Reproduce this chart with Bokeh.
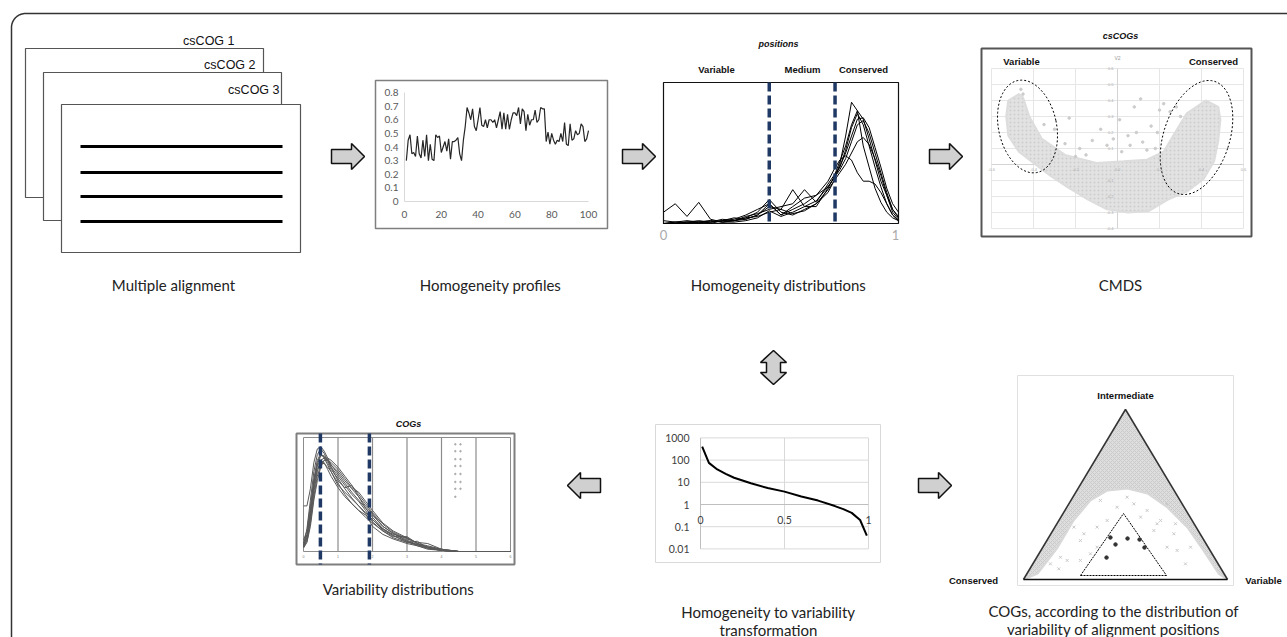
import numpy as np
from bokeh.plotting import figure
from bokeh.models import Range1d
from bokeh.core.properties import value
from bokeh.embed import file_html
from bokeh.resources import INLINE

# ---------------- data ----------------
sheet_labels = ["csCOG 1", "csCOG 2", "csCOG 3"]
captions_top = ["Multiple alignment", "Homogeneity profiles", "Homogeneity distributions", "CMDS"]

# homogeneity profile (position 1..100)
prof_pos = list(range(1, 101))
prof_val = [0.30,0.45,0.49,0.35,0.36,0.33,0.48,0.35,0.32,0.45,
            0.33,0.49,0.30,0.42,0.31,0.30,0.49,0.47,0.48,0.36,
            0.40,0.44,0.37,0.46,0.31,0.44,0.44,0.45,0.47,0.35,
            0.30,0.45,0.55,0.69,0.65,0.60,0.68,0.55,0.52,0.60,
            0.69,0.56,0.55,0.60,0.54,0.60,0.60,0.58,0.60,0.54,
            0.60,0.66,0.53,0.65,0.53,0.64,0.53,0.60,0.65,0.65,
            0.63,0.69,0.57,0.68,0.66,0.52,0.64,0.56,0.60,0.60,
            0.67,0.58,0.60,0.69,0.68,0.68,0.44,0.51,0.42,0.50,
            0.45,0.42,0.45,0.44,0.50,0.44,0.58,0.42,0.41,0.57,
            0.45,0.46,0.52,0.49,0.50,0.57,0.55,0.44,0.46,0.52]
prof_yticks = [0, 0.1, 0.2, 0.3, 0.4, 0.5, 0.6, 0.7, 0.8]
prof_xticks = [0, 20, 40, 60, 80, 100]

# homogeneity distributions (density, relative to panel height)
hd_h = [0.0,0.05,0.1,0.15,0.2,0.25,0.3,0.35,0.4,0.45,0.5,0.55,0.6,0.65,0.7,
        0.725,0.75,0.775,0.8,0.825,0.85,0.875,0.9,0.925,0.95,0.975,1.0]
hd_curves = [
    [0.0,0.0,0.01,0.01,0.01,0.02,0.02,0.04,0.08,0.17,0.08,0.06,0.10,0.14,0.22,0.30,0.42,0.62,0.86,0.80,0.55,0.40,0.25,0.15,0.08,0.04,0.02],
    [0.0,0.01,0.0,0.01,0.02,0.01,0.02,0.03,0.06,0.12,0.10,0.24,0.12,0.12,0.25,0.33,0.44,0.55,0.70,0.80,0.74,0.60,0.45,0.30,0.20,0.10,0.05],
    [0.0,0.0,0.01,0.02,0.01,0.03,0.02,0.05,0.07,0.10,0.12,0.14,0.24,0.15,0.28,0.34,0.40,0.50,0.62,0.74,0.75,0.68,0.54,0.40,0.25,0.14,0.08],
    [0.02,0.01,0.02,0.01,0.0,0.02,0.04,0.03,0.06,0.14,0.06,0.10,0.14,0.20,0.26,0.32,0.38,0.46,0.58,0.70,0.73,0.64,0.50,0.36,0.22,0.10,0.04],
    [0.0,0.0,0.0,0.01,0.02,0.01,0.02,0.04,0.05,0.08,0.10,0.07,0.09,0.14,0.24,0.30,0.36,0.42,0.50,0.58,0.61,0.56,0.46,0.34,0.20,0.08,0.03],
    [0.0,0.01,0.01,0.0,0.01,0.02,0.03,0.06,0.10,0.14,0.06,0.12,0.18,0.20,0.30,0.38,0.45,0.48,0.45,0.36,0.30,0.30,0.28,0.22,0.14,0.06,0.02],
    [0.08,0.14,0.05,0.15,0.03,0.01,0.01,0.02,0.04,0.09,0.05,0.08,0.12,0.16,0.26,0.32,0.40,0.52,0.68,0.78,0.70,0.55,0.40,0.26,0.14,0.06,0.02],
]
hd_thresholds = [0.45, 0.73]
hd_classes = ["Variable", "Medium", "Conserved"]

# CMDS
cm_xgrid = [-0.6, -0.4, -0.2, 0.0, 0.2, 0.4, 0.6]
cm_ygrid = [-0.4, -0.3, -0.2, -0.1, 0.0, 0.1, 0.2, 0.3, 0.4, 0.5, 0.6]
cm_cloud_x = [-0.47,-0.52,-0.53,-0.52,-0.47,-0.40,-0.32,-0.24,-0.14,-0.05,0.05,0.15,0.24,0.33,0.41,0.46,0.48,0.49,0.48,
              0.42,0.33,0.27,0.22,0.14,0.03,-0.10,-0.25,-0.36,-0.42,-0.45]
cm_cloud_y = [0.44,0.40,0.30,0.18,0.08,0.01,-0.07,-0.14,-0.22,-0.28,-0.30,-0.29,-0.22,-0.17,-0.09,0.02,0.15,0.28,0.36,
              0.40,0.32,0.19,0.08,0.03,0.02,0.01,0.06,0.16,0.30,0.42]
cm_out_x = [-0.46,-0.45,-0.23,0.11,0.08,0.20,0.01,0.16,0.22,0.05,-0.05,-0.12,-0.18,-0.30,0.12,0.25,0.18,-0.08,0.02,0.09,
            -0.15,0.28,0.30,-0.35,-0.20,0.14,-0.02,0.06,0.19,-0.25]
cm_out_y = [0.47,0.44,0.29,0.41,0.36,0.34,0.28,0.24,0.38,0.18,0.12,0.15,0.10,0.22,0.14,0.33,0.10,0.22,0.08,0.20,
            0.06,0.36,0.30,0.25,0.05,0.09,0.16,0.12,0.20,0.13]

# homogeneity -> variability transformation
hv_h = [0.01,0.05,0.1,0.15,0.2,0.3,0.4,0.5,0.6,0.7,0.8,0.85,0.9,0.95,0.99]
hv_v = [400,75,38,24,16,9,5.5,3.8,2.3,1.5,0.85,0.62,0.42,0.2,0.04]
hv_yticks = [1000, 100, 10, 1, 0.1, 0.01]
hv_ylabels = ["1000", "100", "10", "1", "0.1", "0.01"]
hv_xticks = [0, 0.5, 1]
hv_xlabels = ["0", "0.5", "1"]

# variability distributions
vd_v = [0,0.1,0.2,0.3,0.4,0.5,0.6,0.7,0.8,1.0,1.2,1.4,1.6,1.8,2.0,2.3,2.6,3.0,3.3,3.6,4.0,4.5,5.0,6.0]
vd_curves = [
    [0.40,0.40,0.55,0.78,0.90,0.92,0.88,0.82,0.76,0.68,0.60,0.52,0.45,0.38,0.32,0.22,0.16,0.10,0.06,0.04,0.01,0.0,0.0,0.0],
    [0.05,0.20,0.45,0.70,0.85,0.90,0.86,0.80,0.74,0.62,0.56,0.58,0.48,0.38,0.30,0.20,0.15,0.12,0.07,0.03,0.01,0.0,0.0,0.0],
    [0.08,0.15,0.35,0.60,0.78,0.85,0.83,0.78,0.72,0.64,0.55,0.47,0.40,0.34,0.28,0.19,0.14,0.08,0.06,0.03,0.01,0.0,0.0,0.0],
    [0.04,0.10,0.28,0.52,0.70,0.80,0.82,0.80,0.76,0.70,0.62,0.55,0.48,0.40,0.33,0.22,0.16,0.09,0.05,0.03,0.01,0.0,0.0,0.0],
    [0.06,0.12,0.30,0.55,0.72,0.78,0.77,0.74,0.70,0.60,0.50,0.42,0.36,0.30,0.25,0.18,0.13,0.13,0.07,0.05,0.02,0.0,0.0,0.0],
    [0.03,0.08,0.22,0.45,0.62,0.74,0.80,0.82,0.80,0.74,0.66,0.58,0.50,0.42,0.34,0.24,0.17,0.11,0.08,0.07,0.02,0.0,0.0,0.0],
    [0.10,0.18,0.40,0.62,0.75,0.80,0.78,0.72,0.66,0.56,0.48,0.42,0.36,0.32,0.28,0.20,0.14,0.09,0.06,0.04,0.01,0.0,0.0,0.0],
    [0.05,0.12,0.32,0.58,0.76,0.84,0.84,0.80,0.74,0.66,0.58,0.50,0.44,0.36,0.26,0.18,0.12,0.08,0.09,0.03,0.01,0.0,0.0,0.0],
    [0.07,0.14,0.36,0.64,0.80,0.86,0.82,0.76,0.70,0.58,0.52,0.46,0.40,0.33,0.22,0.15,0.11,0.07,0.05,0.02,0.01,0.0,0.0,0.0],
    [0.04,0.09,0.25,0.48,0.66,0.76,0.80,0.80,0.78,0.72,0.64,0.56,0.52,0.44,0.36,0.25,0.18,0.12,0.07,0.04,0.02,0.0,0.0,0.0],
]
vd_thresholds = [0.49, 1.91]
vd_ticks = [0, 1, 2, 3, 4, 5, 6]
vd_dots_v = [4.4]*8 + [4.55]*7
vd_dots_d = [0.94,0.88,0.81,0.75,0.68,0.61,0.55,0.48, 0.94,0.88,0.81,0.75,0.68,0.61,0.55]

# ternary plot (plane coords: tx along base 0..1, ty height 0..1)
tern_cloud_tx = [0.0,0.5,1.0,0.956,0.882,0.804,0.706,0.608,0.510,0.412,0.328,0.245,0.167,0.069]
tern_cloud_ty = [0.0,1.0,0.0,0.035,0.171,0.306,0.424,0.506,0.535,0.524,0.465,0.347,0.188,0.035]
tern_cross_tx = [0.173,0.214,0.279,0.296,0.361,0.410,0.574,0.655,0.672,0.737,0.753,0.794,0.639,0.606,0.541,
                 0.459,0.361,0.279,0.181,0.704,0.328,0.745,0.247,0.508,0.377,0.704,0.819,0.132]
tern_cross_ty = [0.063,0.112,0.229,0.269,0.308,0.347,0.367,0.328,0.347,0.269,0.171,0.092,0.288,0.406,0.445,
                 0.425,0.190,0.112,0.131,0.190,0.151,0.328,0.308,0.484,0.465,0.445,0.190,0.092]
tern_sel_tx = [0.426,0.510,0.569,0.451,0.593,0.407]
tern_sel_ty = [0.247,0.241,0.235,0.206,0.188,0.129]
tern_labels = ["Intermediate", "Conserved", "Variable"]

# ---------------- figure ----------------
W, H = 1287, 637
p = figure(width=W, height=H, x_range=Range1d(0, W), y_range=Range1d(H, 0),
           output_backend="svg", toolbar_location=None, x_axis_type=None, y_axis_type=None,
           min_border=0)
p.grid.visible = False
p.outline_line_color = None
p.background_fill_color = "white"
p.border_fill_color = "white"

def txt(x, y, s, size, font="Lato", color="#222222", align="center", baseline="middle",
        style="normal"):
    p.text(x=[x], y=[y], text=[s], text_font=value(font), text_font_size=f"{size}px",
           text_color=color, text_align=align, text_baseline=baseline, text_font_style=style)

def box(l, r, t, b, color="#666666", width=1.0, fill="white"):
    p.quad(left=[l], right=[r], top=[t], bottom=[b], fill_color=fill, line_color=color,
           line_width=width)

# outer rounded border
th = np.linspace(np.pi, 1.5 * np.pi, 20)
bx = list(11 + 14 + 14 * np.cos(th))
by = list(13 + 14 + 14 * np.sin(th))
p.line([11] + bx + [1290], [645] + by + [13], line_color="#333333", line_width=1.5)

# arrows
def harrow(x0, y0, direction):
    s = direction
    xs = [x0, x0 + s*20, x0 + s*20, x0 + s*33, x0 + s*20, x0 + s*20, x0]
    ys = [y0 - 7, y0 - 7, y0 - 13, y0, y0 + 13, y0 + 7, y0 + 7]
    p.patch(xs, ys, fill_color="#d0d0d0", line_color="#111111", line_width=1.5)

harrow(331, 156, 1)
harrow(622, 156, 1)
harrow(929, 156, 1)
harrow(600, 485, -1)
harrow(918, 485, 1)
cx = 773
p.patch([cx, cx+13, cx+7, cx+7, cx+13, cx, cx-13, cx-7, cx-7, cx-13],
        [350, 362, 362, 372, 372, 384, 372, 372, 362, 362],
        fill_color="#d0d0d0", line_color="#111111", line_width=1.5)

# ---- panel 1: multiple alignment ----
sheets = [(25, 263, 48, 197), (43, 281, 72, 220), (61, 300, 104, 252)]
lab_pos = [(234, 40), (255, 64), (279, 89)]
for (l, r, t, b) in sheets:
    box(l, r, t, b, color="#555555", width=1.2)
for s, (x, y) in zip(sheet_labels, lab_pos):
    txt(x, y, s, 12.5, font="Liberation Sans", color="#111111", align="right")
for yy in [146, 172, 196, 221]:
    p.line([80, 282], [yy, yy], line_color="black", line_width=3)

# ---- panel 2: homogeneity profile ----
box(375, 607, 80, 228, color="#7f7f7f", width=1.5)
def px2(x): return 404 + x * 1.84
def py2(y): return 201 - y * 136.25
p.line([px2(0), px2(0)], [py2(0), py2(0.8)], line_color="#d9d9d9", line_width=1)
p.line([px2(0), px2(100)], [py2(0), py2(0)], line_color="#d9d9d9", line_width=1)
for t in prof_yticks:
    txt(398, py2(t), f"{t:g}", 10, color="#595959", align="right")
for t in prof_xticks:
    txt(px2(t), 214, f"{t}", 10, color="#595959")
p.line([px2(v) for v in prof_pos], [py2(v) for v in prof_val], line_color="#262626", line_width=1.2)

# ---- panel 3: homogeneity distributions ----
def px3(h): return 663 + h * 235
def py3(d): return 223 - d * 141
box(663, 898, 82, 223, color="#111111", width=1.2)
for c in hd_curves:
    p.line([px3(h) for h in hd_h], [py3(d) for d in c], line_color="black", line_width=1)
for tval in hd_thresholds:
    p.line([px3(tval), px3(tval)], [82, 223], line_color="#1f3864", line_width=3.5, line_dash="9 4")
txt(778, 43, "positions", 9, font="Liberation Sans", color="#111111", style="bold italic")
for s, x in zip(hd_classes, [716, 802, 863]):
    txt(x, 69, s, 9.5, font="Liberation Sans", color="#111111", style="bold")
txt(663, 234, "0", 13, font="Lato", color="#aaaaaa")
txt(895, 234, "1", 13, font="Lato", color="#aaaaaa")

# ---- panel 4: CMDS ----
def px4(x): return 1117 + x * 210
def py4(y): return 164 - y * 160
box(981, 1251, 48, 236, color="#555555", width=2)
for g in cm_xgrid:
    p.line([px4(g), px4(g)], [py4(-0.4), py4(0.6)], line_color="#e6e6e6", line_width=1)
for g in cm_ygrid:
    p.line([px4(-0.6), px4(0.6)], [py4(g), py4(g)], line_color="#e6e6e6", line_width=1)
p.line([px4(0), px4(0)], [py4(-0.4), py4(0.6)], line_color="#d4d4d4", line_width=1)
p.line([px4(-0.6), px4(0.6)], [py4(0), py4(0)], line_color="#d4d4d4", line_width=1)
p.patch([px4(v) for v in cm_cloud_x], [py4(v) for v in cm_cloud_y], fill_color="#e2e2e2",
        line_color="#dddddd", line_width=2, hatch_pattern=".", hatch_color="#cdcdcd", hatch_scale=4)
p.scatter([px4(v) for v in cm_out_x], [py4(v) for v in cm_out_y], size=2.5, color="#cccccc")
for g in cm_ygrid:
    if g != 0:
        txt(px4(0) - 4, py4(g), f"{g:.1f}", 4, font="Liberation Sans", color="#aaaaaa", align="right")
for g in cm_xgrid:
    txt(px4(g), py4(0) + 5, f"{g:.1f}", 4, font="Liberation Sans", color="#aaaaaa")
txt(1117, 57, "V2", 5, font="Liberation Sans", color="#999999")
txt(1120, 35, "csCOGs", 9, font="Liberation Sans", color="#111111", style="bold italic")
txt(1021, 61, "Variable", 9.5, font="Liberation Sans", color="#111111", style="bold")
txt(1213, 61, "Conserved", 9.5, font="Liberation Sans", color="#111111", style="bold")

def ellipse(cx, cy, a, b, theta_deg):
    t = np.linspace(0, 2 * np.pi, 80)
    th = np.radians(theta_deg)
    u = (np.sin(th), -np.cos(th))
    w = (np.cos(th), np.sin(th))
    xs = cx + a * np.cos(t) * w[0] + b * np.sin(t) * u[0]
    ys = cy + a * np.cos(t) * w[1] + b * np.sin(t) * u[1]
    p.line(list(xs), list(ys), line_color="black", line_width=1, line_dash="2 2")

ellipse(1027, 126, 29, 47, -12)
ellipse(1196, 137, 33, 59, 18)

# ---- panel 5: homogeneity -> variability ----
def px5(h): return 700 + h * 168
def py5(v): return 504 - np.log10(v) * 22.2
box(655, 880, 424, 562, color="#d9d9d9", width=1)
for t in hv_yticks:
    p.line([px5(0), px5(1)], [py5(t), py5(t)], line_color="#d9d9d9", line_width=1)
for t in [0.5, 1.0]:
    p.line([px5(t), px5(t)], [py5(1000), py5(0.01)], line_color="#d9d9d9", line_width=1)
p.line([px5(0), px5(0)], [py5(1000), py5(0.01)], line_color="#bfbfbf", line_width=1)
p.line([px5(0), px5(1)], [py5(1), py5(1)], line_color="#bfbfbf", line_width=1)
for t, s in zip(hv_yticks, hv_ylabels):
    txt(689, py5(t), s, 10.5, color="#404040", align="right")
for t, s in zip(hv_xticks, hv_xlabels):
    txt(px5(t), py5(1) + 15, s, 10.5, color="#404040")
p.line([px5(h) for h in hv_h], [py5(v) for v in hv_v], line_color="black", line_width=2)

# ---- panel 6: variability distributions ----
def px6(v): return 303 + v * 34.5
def py6(d): return 551 - d * 114
box(296, 514, 433, 564, color="#7f7f7f", width=2)
box(303, 510, 437, 551, color="#8c8c8c", width=1)
for t in vd_ticks[1:-1]:
    p.line([px6(t), px6(t)], [437, 551], line_color="#8c8c8c", line_width=1.2)
for t in vd_ticks:
    txt(px6(t), 556, f"{t}", 3.5, font="Liberation Sans", color="#777777")
for c in vd_curves:
    p.line([px6(v) for v in vd_v], [py6(d) for d in c], line_color="#595959", line_width=1)
for tval in vd_thresholds:
    p.line([px6(tval), px6(tval)], [433, 564], line_color="#1f3864", line_width=3.5, line_dash="9 4")
p.scatter([px6(v) for v in vd_dots_v], [py6(d) for d in vd_dots_d], size=1.5, color="#aaaaaa")
txt(408, 423, "COGs", 9, font="Liberation Sans", color="#111111", style="bold italic")

# ---- panel 7: ternary ----
def px7(tx): return 1023 + tx * 204
def py7(ty): return 579 - ty * 170
box(1017, 1233, 375, 585, color="#e0e0e0", width=1)
p.patch([px7(v) for v in tern_cloud_tx], [py7(v) for v in tern_cloud_ty], fill_color="#dedede",
        line_color="#d8d8d8", line_width=2, hatch_pattern="x", hatch_color="#cacaca", hatch_scale=4)
p.scatter([px7(v) for v in tern_cross_tx], [py7(v) for v in tern_cross_ty], marker="x", size=4,
          line_color="#c8c8c8", line_width=1)
p.line([px7(0), px7(0.5), px7(1)], [py7(0), py7(1), py7(0)], line_color="#333333", line_width=1.5)
p.line([px7(0), px7(1)], [py7(0), py7(0)], line_color="#111111", line_width=1.5)
# inner selection triangle
p.line([1080, 1123, 1166], [575, 513, 575], line_color="black", line_width=1, line_dash="2 1")
p.line([1080, 1166], [575, 575], line_color="black", line_width=1, line_dash="2 1")
p.scatter([px7(v) for v in tern_sel_tx], [py7(v) for v in tern_sel_ty], size=3.5, color="#333333")
txt(1125, 395, tern_labels[0], 9.5, font="Liberation Sans", color="#111111", style="bold")
txt(973, 580, tern_labels[1], 9.5, font="Liberation Sans", color="#111111", style="bold")
txt(1263, 580, tern_labels[2], 9.5, font="Liberation Sans", color="#111111", style="bold")

# ---- captions ----
for s, x in zip(captions_top, [173, 490, 778, 1120]):
    txt(x, 284, s, 15)
txt(398, 588, "Variability distributions", 15)
txt(768, 611, "Homogeneity to variability", 15)
txt(768, 629, "transformation", 15)
txt(1113, 610, "COGs, according to the distribution of", 15)
txt(1113, 628, "variability of alignment positions", 15)

open("out.html", "w").write(file_html(p, INLINE))
